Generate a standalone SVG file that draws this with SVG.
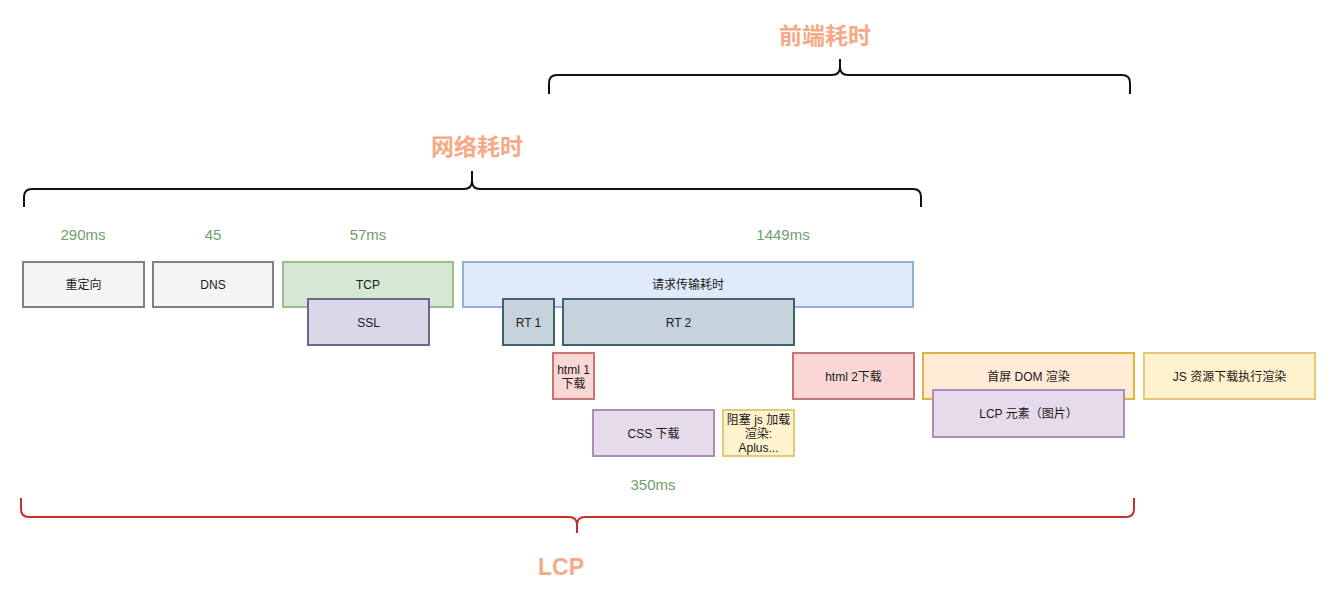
<svg xmlns="http://www.w3.org/2000/svg" width="1336" height="601" viewBox="0 0 1336 601">
<style>
  text { font-family: "Liberation Sans", "Noto Sans CJK SC", sans-serif; }
  .lbl { font-size: 12px; fill: #1a1a1a; text-anchor: middle; }
  .ms { font-size: 15px; fill: #6f9e6b; text-anchor: middle; }
  .title { font-size: 23px; font-weight: bold; fill: #f6a986; text-anchor: middle; }
  .gray { fill: #f5f5f5; stroke: #808080; stroke-width: 2; }
  .green { fill: #d5e8d4; stroke: #97c08a; stroke-width: 2; }
  .ssl { fill: #d9d7e8; stroke: #6b668f; stroke-width: 2; }
  .blue { fill: #dfeafb; stroke: #94b0d6; stroke-width: 2; }
  .rt { fill: #c6d3dd; stroke: #43606f; stroke-width: 2; }
  .red { fill: #f8d7d5; stroke: #c47672; stroke-width: 2; }
  .purple { fill: #e6dbea; stroke: #ab8fba; stroke-width: 2; }
  .yellow { fill: #fff2cc; stroke: #e3c879; stroke-width: 2; }
  .orange { fill: #ffebd6; stroke: #e1b23f; stroke-width: 2; }
  .brace { fill: none; stroke: #111; stroke-width: 2; }
  .brace-red { fill: none; stroke: #c4302a; stroke-width: 2; }
</style>

<g id="connectors">
  <path class="brace" d="M549,94 L549,83 Q549,75 557,75 L832,75 Q840,75 840,67 L840,59 L840,67 Q840,75 848,75 L1122,75 Q1130,75 1130,83 L1130,94"/>
  <path class="brace" d="M24,207 L24,197 Q24,189 32,189 L464,189 Q472,189 472,181 L472,171 L472,181 Q472,189 480,189 L913,189 Q921,189 921,197 L921,207"/>
  <path class="brace-red" d="M21,498 L21,509 Q21,517 29,517 L569,517 Q577,517 577,525 L577,533 L577,525 Q577,517 585,517 L1126,517 Q1134,517 1134,509 L1134,498"/>
</g>

<g id="title-frontend"><text class="title" x="825" y="44">前端耗时</text></g>
<g id="title-network"><text class="title" x="477" y="155">网络耗时</text></g>
<g id="title-lcp"><text class="title" x="561" y="575">LCP</text></g>

<g id="ms-290"><text class="ms" x="83" y="240">290ms</text></g>
<g id="ms-45"><text class="ms" x="213" y="240">45</text></g>
<g id="ms-57"><text class="ms" x="368" y="240">57ms</text></g>
<g id="ms-1449"><text class="ms" x="783" y="240">1449ms</text></g>
<g id="ms-350"><text class="ms" x="653" y="490">350ms</text></g>

<g id="redirect"><rect class="gray" x="23" y="262" width="121" height="45"/><text class="lbl" x="83.5" y="289">重定向</text></g>
<g id="dns"><rect class="gray" x="153" y="262" width="120" height="45"/><text class="lbl" x="213" y="289">DNS</text></g>
<g id="tcp"><rect class="green" x="283" y="262" width="170" height="45"/><text class="lbl" x="368" y="289">TCP</text></g>
<g id="ssl"><rect class="ssl" x="308" y="299" width="121" height="46"/><text class="lbl" x="368.5" y="327">SSL</text></g>
<g id="request"><rect class="blue" x="463" y="262" width="450" height="45"/><text class="lbl" x="688" y="289">请求传输耗时</text></g>
<g id="rt1"><rect class="rt" x="503" y="299" width="51" height="46"/><text class="lbl" x="528.5" y="327">RT 1</text></g>
<g id="rt2"><rect class="rt" x="563" y="299" width="231" height="46"/><text class="lbl" x="678.5" y="327">RT 2</text></g>
<g id="html1"><rect class="red" x="553" y="353" width="41" height="46"/><text class="lbl" x="573.5" y="374">html 1</text><text class="lbl" x="573.5" y="388">下载</text></g>
<g id="css"><rect class="purple" x="593" y="410" width="121" height="46"/><text class="lbl" x="653.5" y="438">CSS 下载</text></g>
<g id="blockjs"><rect class="yellow" x="723" y="410" width="71" height="46"/><text class="lbl" x="758.5" y="424">阻塞 js 加载</text><text class="lbl" x="758.5" y="438">渲染:</text><text class="lbl" x="758.5" y="452">Aplus...</text></g>
<g id="html2"><rect class="red" x="793" y="353" width="121" height="46"/><text class="lbl" x="853.5" y="381">html 2下载</text></g>
<g id="dom"><rect class="orange" x="923" y="353" width="211" height="46"/><text class="lbl" x="1028.5" y="381">首屏 DOM 渲染</text></g>
<g id="lcp-element"><rect class="purple" x="933" y="390" width="191" height="47"/><text class="lbl" x="1028.5" y="418">LCP 元素（图片）</text></g>
<g id="js"><rect class="yellow" x="1144" y="353" width="171" height="46"/><text class="lbl" x="1229.5" y="381">JS 资源下载执行渲染</text></g>
</svg>
